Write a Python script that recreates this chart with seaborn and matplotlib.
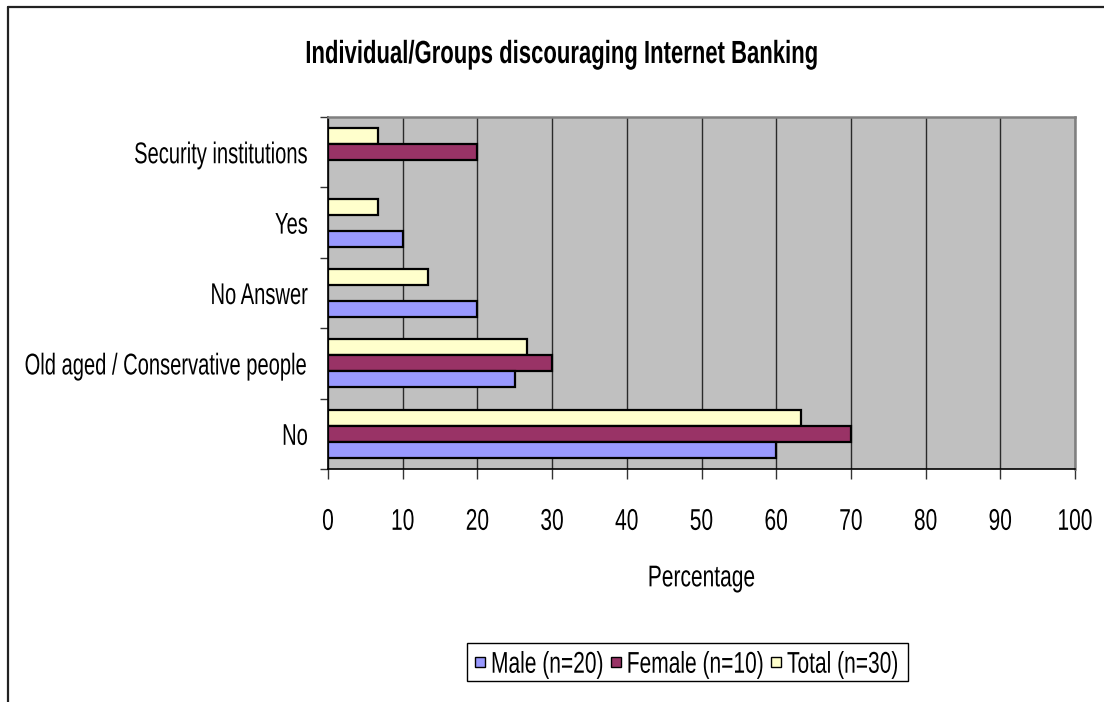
import matplotlib
matplotlib.use("Agg")
import matplotlib.pyplot as plt
from matplotlib.patches import Rectangle
from matplotlib.lines import Line2D
from matplotlib.patheffects import AbstractPathEffect
from matplotlib.transforms import Affine2D
from matplotlib.ticker import MultipleLocator, FixedLocator
import numpy as np
import pandas as pd
import seaborn as sns

# Survey responses (percent)
categories = ["Security institutions", "Yes", "No Answer",
              "Old aged / Conservative people", "No"]
male = [0, 10, 20, 25, 60]
female = [20, 0, 0, 30, 70]
total = [6.67, 6.67, 13.33, 26.67, 63.33]
series_names = ["Male (n=20)", "Female (n=10)", "Total (n=30)"]
series_colors = ["#9999FF", "#993366", "#FFFFCC"]
palette = dict(zip(series_names, series_colors))

rows = []
for name, vals in zip(series_names, [male, female, total]):
    for c, v in zip(categories, vals):
        rows.append({"Category": c, "Series": name, "Value": v})
df = pd.DataFrame(rows)


class Tall(AbstractPathEffect):
    """Stretch glyphs vertically about a line given as a fraction of the em
    above the baseline, giving a tall, narrow type look."""

    def __init__(self, sy=1.43, ky=0.0):
        super().__init__()
        self.sy = sy
        self.ky = ky

    def draw_path(self, renderer, gc, tpath, affine, rgbFace=None):
        # text paths are laid out on a 100-unit em with the baseline at y=0
        _, y0 = affine.transform((0.0, self.ky * 100.0))
        stretch = Affine2D().translate(0, -y0).scale(1.0, self.sy).translate(0, y0)
        renderer.draw_path(gc, tpath, affine + stretch, rgbFace)


sns.set_theme(style="white")
plt.rcParams["font.family"] = ["Liberation Sans", "DejaVu Sans"]

W, H = 1104, 702
fig = plt.figure(figsize=(W / 100, H / 100), dpi=100)
ax = fig.add_axes([328 / W, 1 - 469 / H, (1075 - 328) / W, (469 - 117) / H])
ax.set_facecolor("#C0C0C0")

FS = 15.1        # horizontal size of labels (pt)
FS_Y = 14.5      # category labels
SY = 1.43        # vertical stretch
CAP_MID = 0.358  # half the cap height, in em

# Total on top, Male at the bottom of each group
hue_order = ["Total (n=30)", "Female (n=10)", "Male (n=20)"]
sns.barplot(data=df, x="Value", y="Category", hue="Series", order=categories,
            hue_order=hue_order, palette=palette, orient="h", width=0.68,
            edgecolor="black", linewidth=1.6, saturation=1, ax=ax, legend=False,
            errorbar=None)
for p in ax.patches:
    if p.get_width() == 0:
        p.set_visible(False)

ax.set_xlim(0, 100)
ax.set_ylim(len(categories) - 0.5, -0.5)
ax.xaxis.set_major_locator(MultipleLocator(10))
ax.grid(axis="x", color="#2a2a2a", linewidth=1.0)
ax.set_axisbelow(True)

ax.set_yticks(range(len(categories)))
ax.set_yticklabels(categories)
ax.yaxis.set_minor_locator(FixedLocator(np.arange(-0.5, len(categories), 1.0)))
ax.tick_params(axis="y", which="major", length=0, pad=14.5, labelsize=FS_Y, colors="black")
ax.tick_params(axis="y", which="minor", length=6, width=1, color="#333333", left=True)
ax.tick_params(axis="x", which="major", length=7, width=1, color="#333333", bottom=True,
               pad=26, labelsize=FS, labelcolor="black")
for lbl in ax.get_yticklabels():
    lbl.set_path_effects([Tall(SY * FS / FS_Y, CAP_MID)])
for lbl in ax.get_xticklabels():
    lbl.set_path_effects([Tall(SY, 0.0)])

ax.spines["top"].set_color("#808080")
ax.spines["top"].set_linewidth(1.8)
ax.spines["right"].set_color("#808080")
ax.spines["right"].set_linewidth(1.8)
for side in ["left", "bottom"]:
    ax.spines[side].set_color("black")
    ax.spines[side].set_linewidth(1.2)

ax.set_ylabel("")
xl = ax.set_xlabel("Percentage", fontsize=FS, labelpad=27, color="black")
xl.set_path_effects([Tall(SY, 0.0)])

title = fig.text(562 / W, 1 - 63 / H, "Individual/Groups discouraging Internet Banking",
                 ha="center", va="baseline", fontsize=15.9, fontweight="bold", color="black")
title.set_path_effects([Tall(1.45, 0.0)])

# Legend: swatch + label for each series inside a framed box
renderer = fig.canvas.get_renderer()
box_left, box_top, box_bottom = 467, 643, 681
y_mid = 0.5 * (box_top + box_bottom)
x = box_left + 8
sw = 10
for name, col in zip(series_names, series_colors):
    fig.patches.append(Rectangle((x / W, 1 - (y_mid + sw / 2) / H), sw / W, sw / H,
                                 transform=fig.transFigure, facecolor=col,
                                 edgecolor="black", linewidth=1.0))
    x += sw + 6
    t = fig.text(x / W, 1 - y_mid / H, name, ha="left", va="center_baseline",
                 fontsize=FS, color="black")
    t.set_path_effects([Tall(SY, CAP_MID)])
    x += t.get_window_extent(renderer).width + 7
box_right = x + 2
fig.patches.append(Rectangle((box_left / W, 1 - box_bottom / H), (box_right - box_left) / W,
                             (box_bottom - box_top) / H, transform=fig.transFigure,
                             fill=False, edgecolor="black", linewidth=1.0))

# chart frame (left and top edges)
fig.lines.append(Line2D([8 / W, 8 / W], [0, 1 - 7 / H], transform=fig.transFigure,
                        color="#222222", linewidth=1.6))
fig.lines.append(Line2D([8 / W, 1], [1 - 7 / H, 1 - 7 / H], transform=fig.transFigure,
                        color="#222222", linewidth=1.6))

fig.savefig("out.png", dpi=100, facecolor="white")
